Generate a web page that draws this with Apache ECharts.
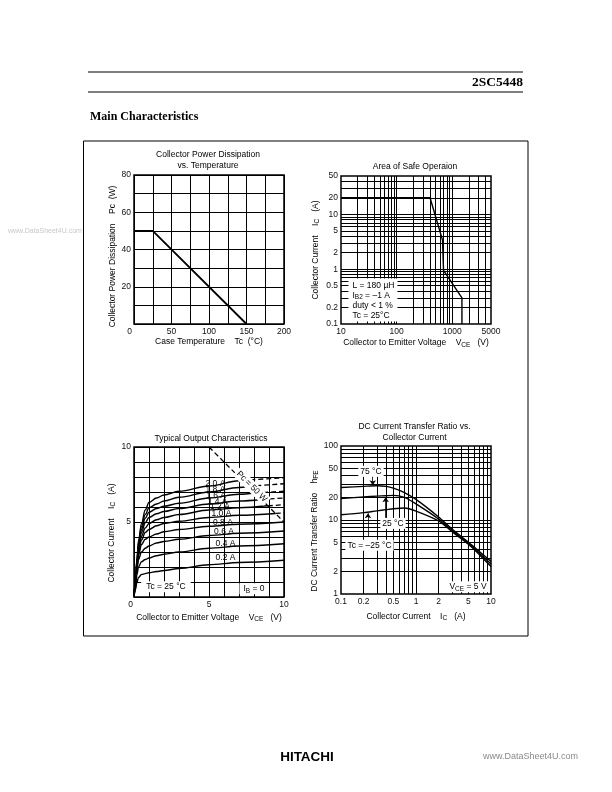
<!DOCTYPE html>
<html><head><meta charset="utf-8">
<script src="https://cdn.jsdelivr.net/npm/echarts@6/dist/echarts.min.js"></script>
<style>html,body{margin:0;padding:0;background:#fff}#c{width:612px;height:792px}</style>
</head><body><div id="c"></div>
<script>
// ================= DATA =================
// Chart 1: Collector Power Dissipation vs. Temperature
const pcTemp  = [0, 25, 150];
const pcPower = [50, 50, 0];
const pcTempLabels  = [0, 50, 100, 150, 200];
const pcPowerLabels = [20, 40, 60, 80];

// Chart 2: Area of Safe Operation (log-log)
const soaVce = [10, 400, 670, 700, 1500, 1500];
const soaIc  = [20, 20, 3.4, 0.95, 0.3, 0.1];
const soaVceLabels = [10, 100, 1000, 5000];
const soaIcLabels  = [0.1, 0.2, 0.5, 1, 2, 5, 10, 20, 50];
const soaGridV = [20,30,40,50,60,70,80,90,100,200,300,400,500,600,700,800,900,1000,2000,3000,4000];
const soaGridI = [0.2,0.3,0.4,0.5,0.6,0.7,0.8,0.9,1,2,3,4,5,6,7,8,9,10,20,30,40];

// Chart 3: Typical Output Characteristics  [VCE (V), IC (A)]
const ibNames = ['2.0 A','1.8 A','1.6 A','1.4 A','1.2 A','1.0 A','0.8 A','0.6 A','0.4 A','0.2 A'];
const ic20 = [[0,0],[0.1,1.2],[0.2,2.6],[0.3,3.75],[0.5,4.9],[0.75,5.8],[1,6.3],[1.5,6.6],[2,6.8],[3,7.05],[5,7.4],[7,7.75],[7.22,7.78]];
const ic20Dash = [[7.22,7.78],[10,7.95]];
const ic18 = [[0,0],[0.1,1.15],[0.2,2.5],[0.3,3.6],[0.5,4.7],[0.75,5.5],[1,5.95],[1.5,6.2],[2,6.4],[3,6.65],[5,7.0],[7,7.3],[7.62,7.38]];
const ic18Dash = [[7.62,7.38],[10,7.55]];
const ic16 = [[0,0],[0.1,1.1],[0.2,2.4],[0.3,3.45],[0.5,4.5],[0.75,5.25],[1,5.65],[1.5,5.9],[2,6.05],[3,6.25],[5,6.6],[7,6.85],[8.07,6.93]];
const ic16Dash = [[8.07,6.93],[10,7.05]];
const ic14 = [[0,0],[0.1,1.05],[0.2,2.3],[0.3,3.3],[0.5,4.3],[0.75,4.95],[1,5.3],[1.5,5.55],[2,5.7],[3,5.9],[5,6.2],[7,6.4],[8.5,6.5]];
const ic14Dash = [[8.5,6.5],[10,6.6]];
const ic12 = [[0,0],[0.1,1.0],[0.2,2.2],[0.3,3.15],[0.5,4.05],[0.75,4.6],[1,4.9],[1.5,5.15],[2,5.3],[3,5.5],[5,5.8],[7,5.95],[8.92,6.08]];
const ic12Dash = [[8.92,6.08],[10,6.15]];
const ic10 = [[0,0],[0.1,0.95],[0.2,2.1],[0.3,3.0],[0.5,3.8],[0.75,4.3],[1,4.5],[1.5,4.75],[2,4.9],[3,5.05],[5,5.3],[7,5.45],[9.45,5.57]];
const ic10Dash = [[9.45,5.57],[10,5.6]];
const ic08 = [[0,0],[0.1,0.9],[0.2,2.0],[0.3,2.8],[0.5,3.5],[0.75,3.85],[1,4.0],[1.5,4.2],[2,4.35],[3,4.5],[5,4.72],[7,4.85],[10,5.0]];
const ic06 = [[0,0],[0.1,0.8],[0.2,1.8],[0.3,2.5],[0.5,3.0],[0.75,3.25],[1,3.4],[1.5,3.6],[2,3.7],[3,3.85],[5,4.1],[7,4.25],[10,4.4]];
const ic04 = [[0,0],[0.1,0.7],[0.2,1.5],[0.3,2.0],[0.5,2.35],[0.75,2.5],[1,2.6],[1.5,2.75],[2,2.85],[3,3.0],[5,3.25],[7,3.4],[10,3.55]];
const ic02 = [[0,0],[0.1,0.5],[0.2,1.0],[0.3,1.3],[0.5,1.5],[0.75,1.56],[1,1.62],[1.5,1.7],[2,1.77],[3,1.9],[5,2.15],[7,2.3],[10,2.45]];
const pcLimit = [[5,10],[10,5]];
const outVceLabels = [0, 5, 10];
const outIcLabels  = [5, 10];

// Chart 4: DC Current Transfer Ratio vs Collector Current (log-log)
const hfeIc  = [0.1, 0.2, 0.3, 0.4, 0.5, 0.7, 1, 2, 3, 5, 7, 10];
const hfe75  = [27.5, 28.5, 29, 28.5, 27, 23.5, 19, 11, 7.6, 5.0, 3.75, 2.75];
const hfe25  = [19.5, 20.5, 21, 21.3, 21.5, 20.2, 16.5, 10.3, 7.3, 4.85, 3.55, 2.55];
const hfeM25 = [11.8, 12.6, 13.3, 13.8, 14.2, 14.5, 13.2, 9.7, 7.0, 4.7, 3.4, 2.35];
const hfeIcLabels = [0.1, 0.2, 0.5, 1, 2, 5, 10];
const hfeLabels   = [1, 2, 5, 10, 20, 50, 100];
const hfeGridIc = [0.2,0.3,0.4,0.5,0.6,0.7,0.8,0.9,1,2,3,4,5,6,7,8,9];
const hfeGridH  = [2,3,4,5,6,7,8,9,10,20,30,40,50,60,70,80,90];

// ================= CHART =================
const FONT = '"Liberation Sans", Arial, Helvetica, sans-serif';
const FS = 8.5;
const SUB = {fontFamily: FONT, fontSize: 6.5, color: '#000', padding: [4,0,0,0]};
const nameStyle = (pad) => ({fontFamily: FONT, fontSize: FS, color: '#000', padding: pad || 0, rich: {sub: SUB}});
const fmtNum = v => String(+(+v).toPrecision(6));

function labelCfg(list, zeroShift) {
  return {
    show: true, margin: 3, fontFamily: FONT, fontSize: FS, color: '#111',
    showMinLabel: true, showMaxLabel: true,
    formatter: v => {
      const n = +(+v).toPrecision(6);
      if (!list.includes(n)) return '';
      if (n === 0 && zeroShift) return '{z|0}';
      return String(n);
    },
    rich: {z: {fontFamily: FONT, fontSize: FS, color: '#111', padding: [0, zeroShift || 0, 0, 0]}}
  };
}
function logLabelCfg(list) {
  return {show: true, margin: 3, fontFamily: FONT, fontSize: FS, color: '#111',
    showMinLabel: true, showMaxLabel: true, customValues: list, formatter: fmtNum};
}
const noLine = {show: false};
const splitBlack = {show: true, lineStyle: {color: '#000', width: 1}};

// grid lines of log charts, drawn between axis extents through the axes' own scales
function gridLines(xs, ys, xr, yr) {
  const segs = xs.map(v => [{coord: [v, yr[0]]}, {coord: [v, yr[1]]}])
    .concat(ys.map(v => [{coord: [xr[0], v]}, {coord: [xr[1], v]}]));
  return {silent: true, symbol: ['none','none'], animation: false, z: 1,
    label: {show: false}, emphasis: {disabled: true},
    lineStyle: {color: '#000', width: 1, type: 'solid', opacity: 1},
    data: segs};
}
function marks(items) {
  return {symbol: 'rect', symbolSize: 1, itemStyle: {color: 'rgba(0,0,0,0)'}, silent: true, animation: false, z: 6,
    label: {show: true, position: 'inside', color: '#000', fontFamily: FONT, fontSize: FS,
      formatter: p => p.name, rich: {sub: SUB}},
    data: items};
}
const white = {backgroundColor: '#fff', padding: [1, 2, 1, 2]};

const curveStyle = {color: '#000', width: 1.4};
const series = [];

// Chart 1
series.push({type: 'line', xAxisIndex: 0, yAxisIndex: 0, symbol: 'none', z: 3,
  lineStyle: {color: '#000', width: 1.8}, data: pcTemp.map((t, i) => [t, pcPower[i]])});

// Chart 2
series.push({type: 'line', xAxisIndex: 1, yAxisIndex: 1, symbol: 'none', data: [],
  markLine: gridLines(soaGridV, soaGridI, [10, 5000], [0.1, 50])});
series.push({type: 'line', xAxisIndex: 1, yAxisIndex: 1, symbol: 'none', z: 3,
  lineStyle: {color: '#000', width: 1.4}, data: soaVce.map((v, i) => [v, soaIc[i]]),
  markPoint: marks([{name: 'L = 180 µH\nI{sub|B2} = –1 A\nduty < 1 %\nTc = 25°C', coord: [13.9, 0.66],
    label: {position: 'insideTopLeft', distance: 0, align: 'left', backgroundColor: '#fff', padding: [2, 3, 1, 4], lineHeight: 10}}])});

// Chart 3
const outSolid = [ic20, ic18, ic16, ic14, ic12, ic10, ic08, ic06, ic04, ic02];
const outDash = [ic20Dash, ic18Dash, ic16Dash, ic14Dash, ic12Dash, ic10Dash];
outSolid.forEach((d, i) => series.push({type: 'line', name: ibNames[i], xAxisIndex: 2, yAxisIndex: 2, symbol: 'none', z: 3,
  smooth: 0.35, smoothMonotone: 'x', lineStyle: curveStyle, data: d}));
outDash.forEach((d, i) => series.push({type: 'line', xAxisIndex: 2, yAxisIndex: 2, symbol: 'none', z: 3,
  lineStyle: {color: '#000', width: 1.3, type: [5, 3]}, data: d}));
const ibLabelPos = [[5.43,7.55],[5.43,7.15],[5.47,6.75],[5.57,6.35],[5.73,6.0],[5.83,5.55],[5.93,4.97],[6.0,4.35],[6.1,3.57],[6.1,2.6]];
series.push({type: 'line', xAxisIndex: 2, yAxisIndex: 2, symbol: 'none', z: 4,
  lineStyle: {color: '#000', width: 1.3, type: [5, 3]}, data: pcLimit,
  markPoint: marks(ibNames.map((n, i) => ({name: n, coord: ibLabelPos[i]})).concat([
    {name: 'Pc = 50 W', coord: [7.85, 7.37], label: Object.assign({rotate: -45}, white)},
    {name: 'Tc = 25 °C', coord: [2.13, 0.69], label: Object.assign({}, white, {padding: [1, 5, 1, 5]})},
    {name: 'I{sub|B} = 0', coord: [8.0, 0.55], label: Object.assign({}, white, {padding: [0, 4, 0, 4]})}
  ]))});

// Chart 4
series.push({type: 'line', xAxisIndex: 3, yAxisIndex: 3, symbol: 'none', data: [],
  markLine: gridLines(hfeGridIc, hfeGridH, [0.1, 10], [1, 100])});
[hfe75, hfe25, hfeM25].forEach(arr => series.push({type: 'line', xAxisIndex: 3, yAxisIndex: 3, symbol: 'none', z: 3,
  smooth: 0.3, lineStyle: curveStyle, data: hfeIc.map((x, i) => [x, arr[i]])}));
series.push({type: 'line', xAxisIndex: 3, yAxisIndex: 3, symbol: 'none', data: [], z: 4,
  markLine: {silent: true, symbol: ['none', 'arrow'], symbolSize: 5, animation: false, z: 5, label: {show: false},
    lineStyle: {color: '#000', width: 0.8, type: 'solid'},
    data: [
      [{coord: [0.265, 40]}, {coord: [0.265, 29.5]}],
      [{coord: [0.394, 10.6]}, {coord: [0.394, 20.3]}],
      [{coord: [0.229, 5.9]}, {coord: [0.229, 12.3]}]
    ]},
  markPoint: marks([
    {name: '75 °C', coord: [0.251, 45.5], label: white},
    {name: '25 °C', coord: [0.493, 9.0], label: white},
    {name: 'Tc = –25 °C', coord: [0.24, 4.55], label: white},
    {name: 'V{sub|CE} = 5 V', coord: [4.86, 1.25], label: Object.assign({}, white, {padding: [0, 3, 0, 4]})}
  ])});

const titleStyle = {fontFamily: FONT, fontSize: FS, fontWeight: 'normal', color: '#000', lineHeight: 11};
const option = {
  animation: false,
  backgroundColor: '#fff',
  textStyle: {fontFamily: FONT},
  title: [
    {text: 'Collector Power Dissipation\nvs. Temperature', left: 208, top: 149.5, textAlign: 'center', padding: 0, textStyle: titleStyle},
    {text: 'Area of Safe Operaion', left: 415, top: 161, textAlign: 'center', padding: 0, textStyle: titleStyle},
    {text: 'Typical Output Characteristics', left: 211, top: 433, textAlign: 'center', padding: 0, textStyle: titleStyle},
    {text: 'DC Current Transfer Ratio vs.\nCollector Current', left: 414.5, top: 421.5, textAlign: 'center', padding: 0, textStyle: titleStyle}
  ],
  grid: [
    {left: 134, top: 175, width: 150, height: 149},
    {left: 341, top: 176, width: 150, height: 148},
    {left: 134, top: 447, width: 150, height: 150},
    {left: 341, top: 446, width: 150, height: 148}
  ].map(g => Object.assign(g, {show: true, borderColor: '#000', borderWidth: 1.5, backgroundColor: 'transparent', containLabel: false, outerBoundsMode: 'none'})),
  xAxis: [
    {gridIndex: 0, type: 'value', min: 0, max: 200, interval: 25, axisLine: noLine, axisTick: noLine, splitLine: splitBlack,
      axisLabel: labelCfg(pcTempLabels, 9), name: 'Case Temperature    Tc  (°C)', nameLocation: 'middle', nameGap: 12, nameTextStyle: nameStyle()},
    {gridIndex: 1, type: 'log', logBase: 10, min: 10, max: 5000, axisLine: noLine, axisTick: noLine, splitLine: noLine,
      axisLabel: logLabelCfg(soaVceLabels), name: 'Collector to Emitter Voltage    V{sub|CE}   (V)', nameLocation: 'middle', nameGap: 13.5, nameTextStyle: nameStyle()},
    {gridIndex: 2, type: 'value', min: 0, max: 10, interval: 1, axisLine: noLine, axisTick: noLine, splitLine: splitBlack,
      axisLabel: labelCfg(outVceLabels, 7), name: 'Collector to Emitter Voltage    V{sub|CE}   (V)', nameLocation: 'middle', nameGap: 15, nameTextStyle: nameStyle()},
    {gridIndex: 3, type: 'log', logBase: 10, min: 0.1, max: 10, axisLine: noLine, axisTick: noLine, splitLine: noLine,
      axisLabel: logLabelCfg(hfeIcLabels), name: 'Collector Current    I{sub|C}   (A)', nameLocation: 'middle', nameGap: 17, nameTextStyle: nameStyle()}
  ],
  yAxis: [
    {gridIndex: 0, type: 'value', min: 0, max: 80, interval: 10, axisLine: noLine, axisTick: noLine, splitLine: splitBlack,
      axisLabel: labelCfg(pcPowerLabels), name: 'Collector Power Dissipation    Pc  (W)', nameLocation: 'middle', nameRotate: 90, nameGap: 17, nameTextStyle: nameStyle([0, 14, 0, 0])},
    {gridIndex: 1, type: 'log', logBase: 10, min: 0.1, max: 50, axisLine: noLine, axisTick: noLine, splitLine: noLine,
      axisLabel: logLabelCfg(soaIcLabels), name: 'Collector Current    I{sub|C}   (A)', nameLocation: 'middle', nameRotate: 90, nameGap: 20, nameTextStyle: nameStyle()},
    {gridIndex: 2, type: 'value', min: 0, max: 10, interval: 1, axisLine: noLine, axisTick: noLine, splitLine: splitBlack,
      axisLabel: labelCfg(outIcLabels), name: 'Collector Current    I{sub|C}   (A)', nameLocation: 'middle', nameRotate: 90, nameGap: 17, nameTextStyle: nameStyle([0, 22, 0, 0])},
    {gridIndex: 3, type: 'log', logBase: 10, min: 1, max: 100, axisLine: noLine, axisTick: noLine, splitLine: noLine,
      axisLabel: logLabelCfg(hfeLabels), name: 'DC Current Transfer Ratio    h{sub|FE}', nameLocation: 'middle', nameRotate: 90, nameGap: 21, nameTextStyle: nameStyle([0, 22, 0, 0])}
  ],
  series: series,
  graphic: [
    {type: 'line', shape: {x1: 88, y1: 72, x2: 523, y2: 72}, style: {stroke: '#000', lineWidth: 1.2}},
    {type: 'line', shape: {x1: 88, y1: 92, x2: 523, y2: 92}, style: {stroke: '#000', lineWidth: 1.2}},
    {type: 'text', x: 523, y: 83, style: {text: '2SC5448', fontFamily: '"Liberation Serif", "Times New Roman", serif', fontWeight: 'bold', fontSize: 13.5, fill: '#000', align: 'right', verticalAlign: 'middle'}},
    {type: 'text', x: 90, y: 117, style: {text: 'Main Characteristics', fontFamily: '"Liberation Serif", "Times New Roman", serif', fontWeight: 'bold', fontSize: 12, fill: '#000', align: 'left', verticalAlign: 'middle'}},
    {type: 'rect', shape: {x: 83.5, y: 141, width: 444.5, height: 495}, style: {fill: 'none', stroke: '#000', lineWidth: 1}, z: -1},
    {type: 'text', x: 8, y: 231, style: {text: 'www.DataSheet4U.com', fontFamily: FONT, fontSize: 7, fill: '#c8c8c8', align: 'left', verticalAlign: 'middle'}},
    {type: 'text', x: 307, y: 757, style: {text: 'HITACHI', fontFamily: FONT, fontWeight: 'bold', fontSize: 13.5, fill: '#000', align: 'center', verticalAlign: 'middle'}},
    {type: 'text', x: 483, y: 757, style: {text: 'www.DataSheet4U.com', fontFamily: FONT, fontSize: 9, fill: '#8a8a8a', align: 'left', verticalAlign: 'middle'}}
  ]
};
const chart = echarts.init(document.getElementById('c'), null, {width: 612, height: 792});
chart.setOption(option);
</script>
</body></html>
